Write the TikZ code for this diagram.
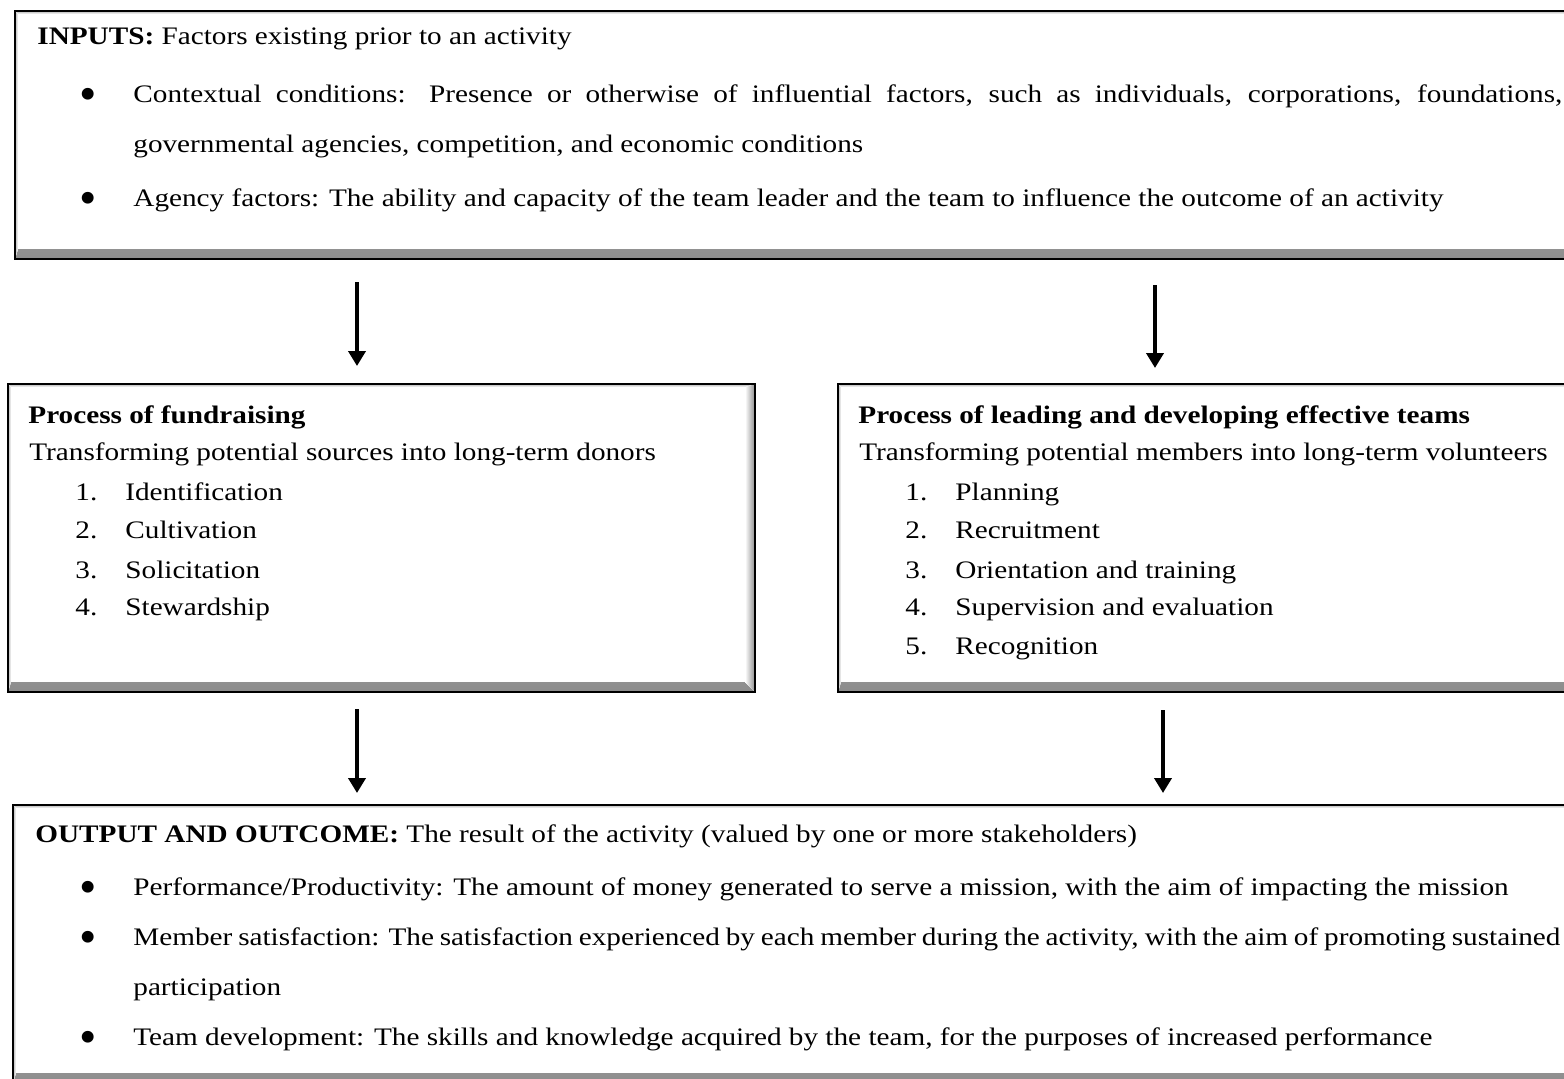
\documentclass[tikz,border=0pt]{standalone}
\usepackage{fontspec}
\setmainfont{Liberation Serif}[FakeStretch=1.16]
\usetikzlibrary{arrows.meta}

\newcommand{\bulletmark}{\makebox[25pt][l]{\hspace{-2pt}\raisebox{-4pt}{\scalebox{1.7}[1.95]{\textbullet}}}}

\begin{document}
\begin{tikzpicture}[x=0.5pt, y=-0.5pt,
	font=\fontsize{12.6}{15}\selectfont,
	txt/.style={anchor=base west, inner sep=0pt},
	panel/.style={draw, line width=1pt, fill=white, inner sep=0pt, anchor=north west,
		path picture={
			\fill[top color=white, bottom color=black!45]
				(path picture bounding box.south west) -- (path picture bounding box.south east)
				-- ([shift={(-5pt,5pt)}]path picture bounding box.south east)
				-- ([shift={(1.5pt,5pt)}]path picture bounding box.south west) -- cycle;
			\fill[left color=white, right color=black!45]
				(path picture bounding box.south east) -- (path picture bounding box.north east)
				-- ([shift={(-5pt,-1.5pt)}]path picture bounding box.north east)
				-- ([shift={(-5pt,5pt)}]path picture bounding box.south east) -- cycle;
			\fill[top color=black!30, bottom color=white]
				(path picture bounding box.north west) -- (path picture bounding box.north east)
				-- ([shift={(-5pt,-1.5pt)}]path picture bounding box.north east)
				-- ([shift={(1.5pt,-1.5pt)}]path picture bounding box.north west) -- cycle;
			\fill[left color=black!30, right color=white]
				(path picture bounding box.north west) -- (path picture bounding box.south west)
				-- ([shift={(1.5pt,5pt)}]path picture bounding box.south west)
				-- ([shift={(1.5pt,-1.5pt)}]path picture bounding box.north west) -- cycle;
		}},
	flow/.style={line width=2pt, -{Triangle[width=8.5pt, length=7.5pt]}}]

\fill[white, use as bounding box] (0,0) rectangle (1564,1078);
\clip (0,0) rectangle (1564,1078);

% boxes
\path (14,10) node[panel, minimum width=783pt, minimum height=124pt] (inputs) {}
	  (7,383) node[panel, minimum width=373.5pt, minimum height=154pt] (fund) {}
	  (837,383) node[panel, minimum width=371.5pt, minimum height=154pt] (team) {}
	  (12,804) node[panel, minimum width=784pt, minimum height=139pt] (outcome) {};

% inputs
\path (37,44) node[txt] (inhead) {\textbf{INPUTS:} Factors existing prior to an activity}
	  (83,102) node[txt] (inctx) {\bulletmark\makebox[714.5pt][s]{Contextual conditions: Presence or otherwise of influential factors, such as individuals, corporations, foundations,}}
	  (133,152) node[txt] (inctxb) {governmental agencies, competition, and economic conditions}
	  (83,206) node[txt] (inagency) {\bulletmark Agency factors: The ability and capacity of the team leader and the team to influence the outcome of an activity};

% fundraising
\path (28,423) node[txt] (fhead) {\textbf{Process of fundraising}}
	  (29,460) node[txt] (fsub) {Transforming potential sources into long-term donors}
	  (75,500) node[txt] (f1) {\makebox[25pt][l]{1.}Identification}
	  (75,538) node[txt] (f2) {\makebox[25pt][l]{2.}Cultivation}
	  (75,578) node[txt] (f3) {\makebox[25pt][l]{3.}Solicitation}
	  (75,615) node[txt] (f4) {\makebox[25pt][l]{4.}Stewardship};

% teams
\path (858,423) node[txt] (thead) {\textbf{Process of leading and developing effective teams}}
	  (859,460) node[txt] (tsub) {Transforming potential members into long-term volunteers}
	  (905,500) node[txt] (t1) {\makebox[25pt][l]{1.}Planning}
	  (905,538) node[txt] (t2) {\makebox[25pt][l]{2.}Recruitment}
	  (905,578) node[txt] (t3) {\makebox[25pt][l]{3.}Orientation and training}
	  (905,615) node[txt] (t4) {\makebox[25pt][l]{4.}Supervision and evaluation}
	  (905,654) node[txt] (t5) {\makebox[25pt][l]{5.}Recognition};

% output and outcome
\path (35,842) node[txt] (ohead) {\textbf{OUTPUT AND OUTCOME:} The result of the activity (valued by one or more stakeholders)}
	  (83,895) node[txt] (operf) {\bulletmark Performance/Productivity: The amount of money generated to serve a mission, with the aim of impacting the mission}
	  (83,945) node[txt] (osat) {\bulletmark\makebox[713.5pt][s]{Member satisfaction: The satisfaction experienced by each member during the activity, with the aim of promoting sustained}}
	  (133,995) node[txt] (osatb) {participation}
	  (83,1045) node[txt] (odev) {\bulletmark Team development: The skills and knowledge acquired by the team, for the purposes of increased performance};

% arrows
\coordinate (colA) at (357,0);
\coordinate (colB) at (1155,0);
\coordinate (colC) at (1163,0);
\draw[flow, shorten <=11pt, shorten >=8.5pt] (inputs.south -| colA) -- (fund.north -| colA);
\draw[flow, shorten <=12.5pt, shorten >=7.5pt] (inputs.south -| colB) -- (team.north -| colB);
\draw[flow, shorten <=8pt, shorten >=5.5pt] (fund.south -| colA) -- (outcome.north -| colA);
\draw[flow, shorten <=8.5pt, shorten >=5.5pt] (team.south -| colC) -- (outcome.north -| colC);
\end{tikzpicture}
\end{document}
